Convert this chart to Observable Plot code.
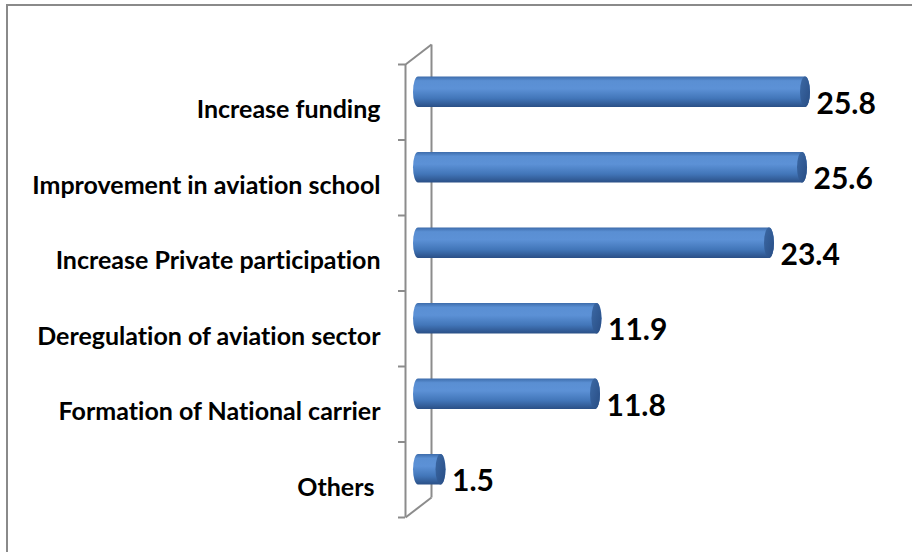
<!DOCTYPE html>
<html>
<head>
<meta charset="utf-8">
<script src="https://cdn.jsdelivr.net/npm/d3@7"></script>
<script src="https://cdn.jsdelivr.net/npm/@observablehq/plot@0.6"></script>
<style>
  body { margin: 0; background: #fff; }
  #wrap { position: relative; width: 912px; height: 552px; overflow: hidden; background: #fff; }
  #border { position: absolute; left: 6px; top: 4px; width: 1000px; height: 700px;
            border-left: 2px solid #8a8a8a; border-top: 2px solid #8a8a8a; pointer-events: none; }
  #wrap svg { position: absolute; left: 0; top: 0; }
  #wrap svg text { font-variant-ligatures: none; font-feature-settings: "liga" 0; }
</style>
</head>
<body>
<div id="wrap"><div id="border"></div></div>
<script>
const categories = [
  "Increase funding",
  "Improvement in aviation school",
  "Increase Private participation",
  "Deregulation of aviation sector",
  "Formation of National carrier",
  "Others "
];
const values = [25.8, 25.6, 23.4, 11.9, 11.8, 1.5];
const valueLabels = ["25.8", "25.6", "23.4", "11.9", "11.8", "1.5"];
const tickEdges = [0, 1, 2, 3, 4, 5, 6];

const rows = categories.map((label, i) => ({label, value: values[i], text: valueLabels[i], i}));

const gray = "#8c8c8c";
const font = "Lato, 'Open Sans', sans-serif";
// 3D depth of the wall (in value / category units) derived from pixel depth
const pxPerUnitX = (912 - 405 - 57) / 30;
const pxPerUnitY = (552 - 64 - 35) / 6;
const depthX = 26 / pxPerUnitX;
const depthY = 20 / pxPerUnitY;

const plot = Plot.plot({
  width: 912,
  height: 552,
  marginLeft: 405,
  marginRight: 57,
  marginTop: 64,
  marginBottom: 35,
  style: {background: "transparent", fontFamily: font},
  x: {domain: [0, 30], axis: null},
  y: {domain: [0, 6], reverse: true, label: null},
  marks: [
    // back wall edge
    Plot.link([0], {x1: depthX, x2: depthX, y1: -depthY, y2: 6 - depthY, stroke: gray, strokeWidth: 2}),
    // wall diagonals (top and bottom)
    Plot.link([0, 6], {x1: 0, y1: d => d, x2: depthX, y2: d => d - depthY, stroke: gray, strokeWidth: 2}),
    // front wall line with ticks at category edges
    Plot.ruleX([0], {stroke: gray, strokeWidth: 2}),
    Plot.axisY({ticks: tickEdges, tickSize: 7, tickFormat: () => "", stroke: gray, strokeWidth: 2, anchor: "left"}),
    // cylinder body
    Plot.rect(rows, {
      x1: 0, x2: "value", y1: "i", y2: d => d.i + 1,
      insetTop: 22.5, insetBottom: 22.5, insetLeft: -5, insetRight: -5,
      rx: 5, ry: 15.25, dx: 13, dy: -10, fill: "url(#cylBody)"
    }),
    // cylinder end cap
    Plot.rect(rows, {
      x1: "value", x2: "value", y1: "i", y2: d => d.i + 1,
      insetTop: 22.5, insetBottom: 22.5, insetLeft: -5, insetRight: -5,
      rx: 5, ry: 15.25, dx: 13, dy: -10, fill: "url(#cylCap)"
    }),
    // value labels
    Plot.text(rows, {
      x: "value", y: d => d.i + 0.5, text: "text", dx: 24, dy: 2, textAnchor: "start",
      fontSize: 30, fontWeight: "bold", fill: "#000", fontFamily: font
    }),
    // category labels
    Plot.text(rows, {
      x: 0, y: d => d.i + 0.5, text: "label", dx: -25, dy: 8, textAnchor: "end",
      fontSize: 25, fontWeight: "bold", fill: "#000", fontFamily: font
    })
  ]
});

const ns = "http://www.w3.org/2000/svg";
const defs = document.createElementNS(ns, "defs");
defs.innerHTML = `
  <linearGradient id="cylBody" x1="0" y1="0" x2="0" y2="1">
    <stop offset="0%" stop-color="#3d6cab"/>
    <stop offset="14%" stop-color="#5a8fd3"/>
    <stop offset="40%" stop-color="#5c91d6"/>
    <stop offset="72%" stop-color="#4276b9"/>
    <stop offset="100%" stop-color="#2a4f86"/>
  </linearGradient>
  <linearGradient id="cylCap" x1="0" y1="0" x2="1" y2="1">
    <stop offset="0%" stop-color="#3c69a5"/>
    <stop offset="100%" stop-color="#284d84"/>
  </linearGradient>`;
plot.insertBefore(defs, plot.firstChild);
document.getElementById("wrap").appendChild(plot);
</script>
</body>
</html>
